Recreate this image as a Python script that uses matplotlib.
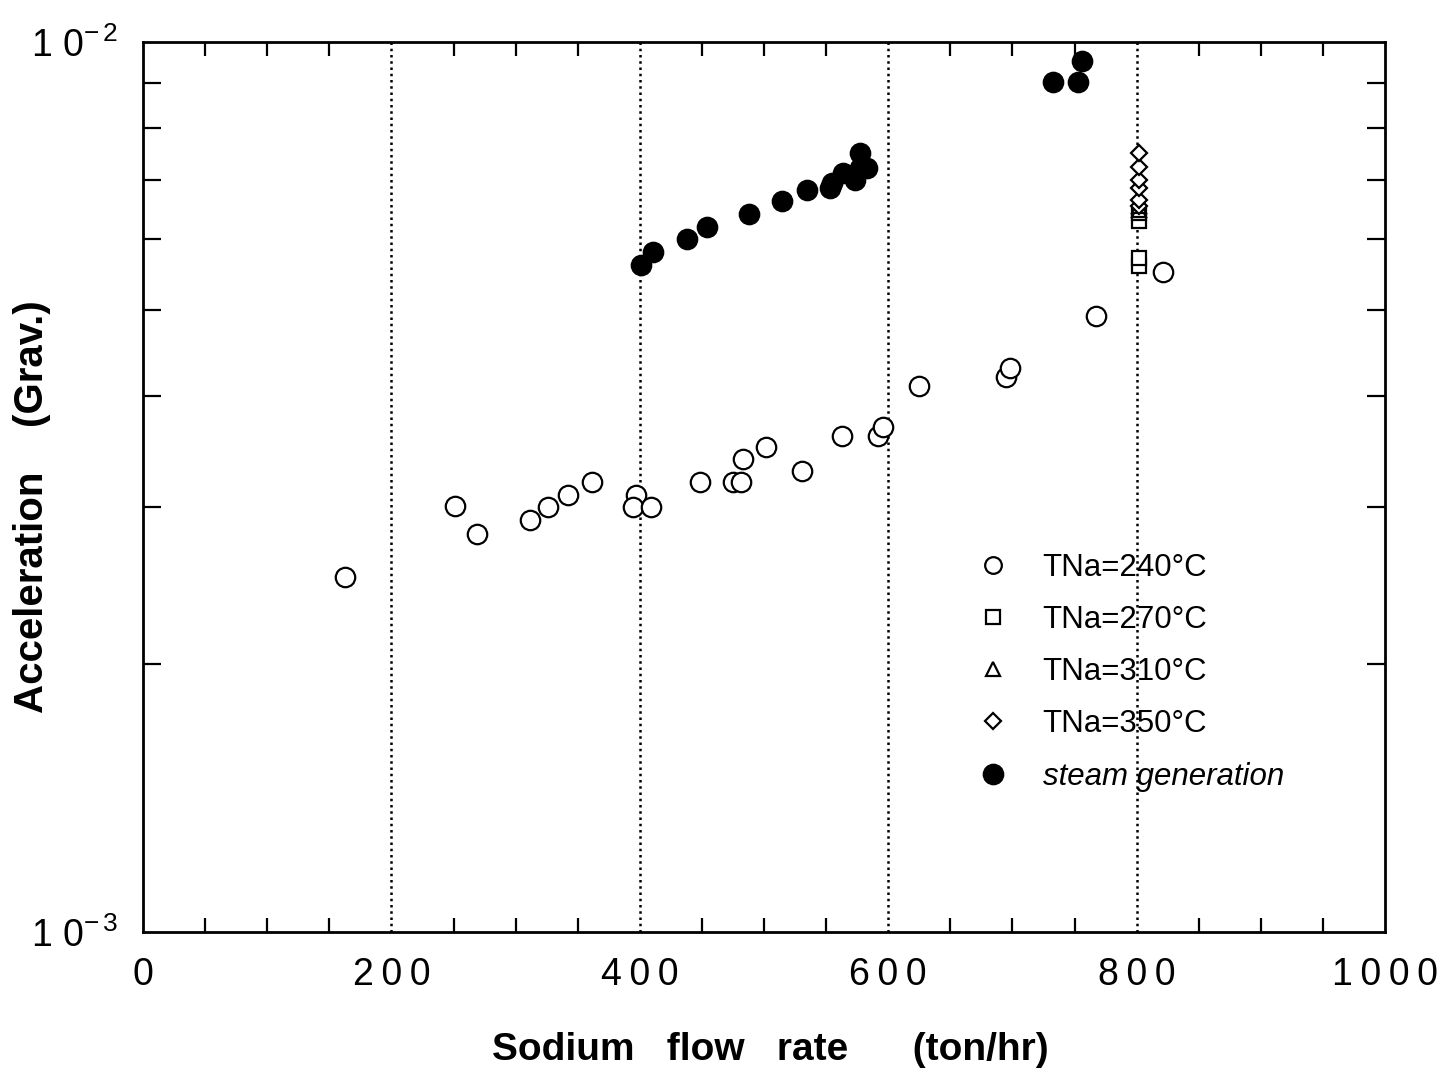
import math
import matplotlib
matplotlib.use("Agg")
import matplotlib.pyplot as plt
from matplotlib.lines import Line2D
from matplotlib.ticker import FixedLocator, FuncFormatter, MultipleLocator, NullFormatter

plt.rcParams['font.family'] = ['Liberation Sans', 'DejaVu Sans']
plt.rcParams['mathtext.fontset'] = 'custom'
plt.rcParams['mathtext.rm'] = 'Liberation Sans'
plt.rcParams['mathtext.it'] = 'Liberation Sans:italic'
plt.rcParams['mathtext.bf'] = 'Liberation Sans:bold'

# TNa = 240 C (open circles)
x240 = [162.6, 251.2, 268.9, 311.6, 326.1, 342.2, 361.5, 396.9, 394.5, 409.0,
        448.5, 475.0, 481.5, 483.0, 501.6, 530.6, 562.8, 591.8, 595.8, 624.8,
        694.8, 698.0, 767.3, 821.3]
y240 = [2.506e-3, 3.01e-3, 2.80e-3, 2.90e-3, 3.00e-3, 3.10e-3, 3.20e-3, 3.10e-3, 3.00e-3, 3.00e-3,
        3.20e-3, 3.20e-3, 3.20e-3, 3.40e-3, 3.51e-3, 3.30e-3, 3.61e-3, 3.61e-3, 3.69e-3, 4.11e-3,
        4.20e-3, 4.30e-3, 4.92e-3, 5.51e-3]

# TNa = 270 C (open squares)
x270 = [802.0, 802.0, 802.0, 802.0]
y270 = [5.60e-3, 5.72e-3, 6.29e-3, 6.42e-3]

# TNa = 310 C (open triangles)
x310 = [802.0, 802.0]
y310 = [6.47e-3, 6.55e-3]

# TNa = 350 C (open diamonds)
x350 = [802.0, 802.0, 802.0, 802.0, 802.0, 802.0]
y350 = [6.54e-3, 6.64e-3, 6.85e-3, 7.00e-3, 7.24e-3, 7.50e-3]

# steam generation (filled circles)
xsteam = [401.0, 410.9, 438.2, 453.8, 488.2, 514.2, 534.3, 553.1, 554.4, 563.8,
          573.3, 577.3, 582.5, 577.3, 732.7, 752.8, 756.0]
ysteam = [5.62e-3, 5.81e-3, 6.00e-3, 6.20e-3, 6.41e-3, 6.62e-3, 6.81e-3, 6.85e-3, 6.94e-3, 7.12e-3,
          7.00e-3, 7.22e-3, 7.21e-3, 7.50e-3, 9.02e-3, 9.02e-3, 9.52e-3]

labels = ["TNa=240°C", "TNa=270°C", "TNa=310°C", "TNa=350°C", "steam generation"]
grid_x = [200, 400, 600, 800]
xticks = [0, 200, 400, 600, 800, 1000]

fig = plt.figure(figsize=(14.42, 10.71), dpi=100)
ax = fig.add_axes([0.0992, 0.1298, 0.8613, 0.8310])

ax.set_yscale('log')
ax.set_xlim(0, 1000)
ax.set_ylim(1e-3, 1e-2)

for gx in grid_x:
    ax.axvline(gx, color='black', linestyle=(0, (1, 1.5)), linewidth=1.8, zorder=1)

mew = 1.6
ax.plot(x240, y240, linestyle='none', marker='o', markersize=14, markerfacecolor='white',
        markeredgecolor='black', markeredgewidth=mew, zorder=3)
ax.plot(x270, y270, linestyle='none', marker='s', markersize=10.5, markerfacecolor='white',
        markeredgecolor='black', markeredgewidth=mew, zorder=3)
ax.plot(x310, y310, linestyle='none', marker='^', markersize=10, markerfacecolor='white',
        markeredgecolor='black', markeredgewidth=mew, zorder=3)
ax.plot(x350, y350, linestyle='none', marker='D', markersize=8.5, markerfacecolor='white',
        markeredgecolor='black', markeredgewidth=mew, zorder=3)
ax.plot(xsteam, ysteam, linestyle='none', marker='o', markersize=14, markerfacecolor='black',
        markeredgecolor='black', markeredgewidth=mew, zorder=4)

# ticks
ax.xaxis.set_major_locator(FixedLocator(xticks))
ax.xaxis.set_minor_locator(MultipleLocator(50))
ax.xaxis.set_major_formatter(FuncFormatter(lambda v, p: "\u2009".join("%d" % v)))
ax.yaxis.set_major_locator(FixedLocator([1e-3, 1e-2]))
ax.yaxis.set_minor_locator(FixedLocator([k * 1e-3 for k in range(2, 10)]))
ax.yaxis.set_minor_formatter(NullFormatter())

def yfmt(v, p):
    e = int(round(math.log10(v)))
    return r"1 0$^{-\,%d}$" % (-e)
ax.yaxis.set_major_formatter(FuncFormatter(yfmt))

ax.tick_params(which='both', direction='in', top=True, right=True, color='black', width=1.6)
ax.tick_params(which='major', length=0, labelsize=27)
ax.tick_params(axis='x', which='major', pad=18)
ax.tick_params(axis='y', which='major', pad=18)
ax.tick_params(axis='x', which='minor', length=10)
ax.tick_params(axis='y', which='minor', length=13)

for s in ax.spines.values():
    s.set_linewidth(2.0)

fig.text(770 / 1442, 1 - 1050 / 1071, "Sodium   flow   rate      (ton/hr)", fontsize=28,
         fontweight='bold', ha='center', va='center')
fig.text(32 / 1442, 1 - 713 / 1071, "Acceleration    (Grav.)", fontsize=29,
         fontweight='bold', ha='center', va='bottom', rotation=90)

handles = [
    Line2D([], [], linestyle='none', marker='o', markersize=12, markerfacecolor='white', markeredgecolor='black', markeredgewidth=1.6),
    Line2D([], [], linestyle='none', marker='s', markersize=9.5, markerfacecolor='white', markeredgecolor='black', markeredgewidth=1.6),
    Line2D([], [], linestyle='none', marker='^', markersize=9.5, markerfacecolor='white', markeredgecolor='black', markeredgewidth=1.6),
    Line2D([], [], linestyle='none', marker='D', markersize=8, markerfacecolor='white', markeredgecolor='black', markeredgewidth=1.6),
    Line2D([], [], linestyle='none', marker='o', markersize=14, markerfacecolor='black', markeredgecolor='black', markeredgewidth=1.6),
]
leg = ax.legend(handles, labels, loc='upper left', bbox_to_anchor=(0.669, 0.426), frameon=False,
                fontsize=22.5, labelspacing=0.71, handletextpad=1.0, handlelength=1.2,
                borderaxespad=0, borderpad=0)
leg.get_texts()[4].set_style('italic')

fig.savefig("out.png", dpi=100)
